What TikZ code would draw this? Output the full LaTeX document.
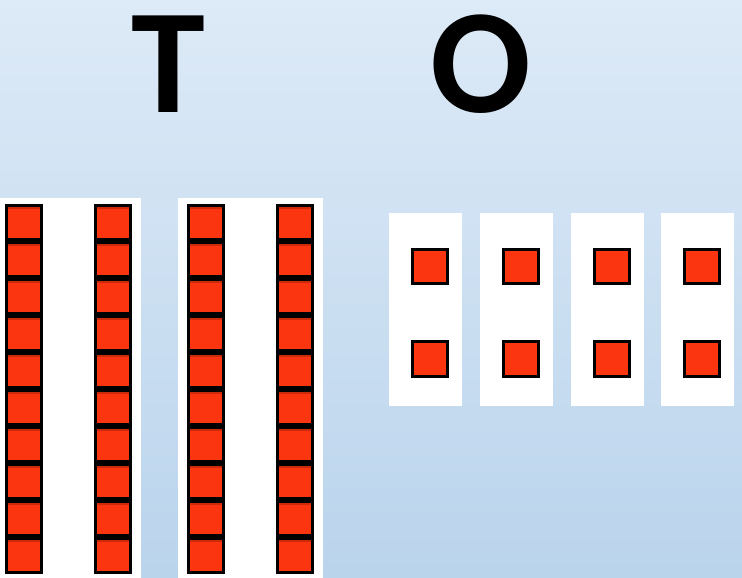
\documentclass[tikz,border=0pt]{standalone}
\usepackage{fontspec}
\setmainfont{Carlito}
\definecolor{cubered}{RGB}{250,53,16}
\definecolor{cubedark}{RGB}{205,42,12}
\definecolor{bgtop}{RGB}{221,234,247}
\definecolor{bgbot}{RGB}{186,212,236}
\tikzset{
  panel/.style={fill=white,draw=none},
  cube/.style={fill=cubered,draw=black,line width=2.6pt,line join=miter},
  letter/.style={font=\fontsize{149}{149}\selectfont\bfseries,anchor=base,inner sep=0pt,text height=100pt,text depth=0pt}
}
\begin{document}
\begin{tikzpicture}[x=1pt,y=-1pt]
\shade[top color=bgtop,bottom color=bgbot] (0,0) rectangle (742,578);
\useasboundingbox (0,0) rectangle (742,578);
\node[letter] (T) at (168,112) {T};
\node[letter] (O) at (481,112) {O};
% tens panels
\fill[panel] (0,198) rectangle (141,578);
\fill[panel] (178,198) rectangle (323,578);
\foreach \x in {5,94,187,276}{
  \foreach \k in {0,...,9}{
    \pgfmathsetmacro{\yt}{204+37*\k}
    \fill[cubered] (\x+1.3,\yt+1.3) rectangle (\x+36.7,\yt+35.7);
    \fill[cubedark] (\x+1.3,\yt+1.3) rectangle (\x+36.7,\yt+4.5);
    \draw[black,line width=2.6pt] (\x+1.3,\yt+1.3) rectangle (\x+36.7,\yt+35.7);
  }
}
% ones panels
\foreach \px in {389,480,571,661}{
  \fill[panel] (\px,213) rectangle (\px+73,406);
  \draw[cube] (\px+23.3,249.3) rectangle (\px+58.7,283.7);
  \draw[cube] (\px+23.3,341.3) rectangle (\px+58.7,376.7);
}
\end{tikzpicture}
\end{document}
